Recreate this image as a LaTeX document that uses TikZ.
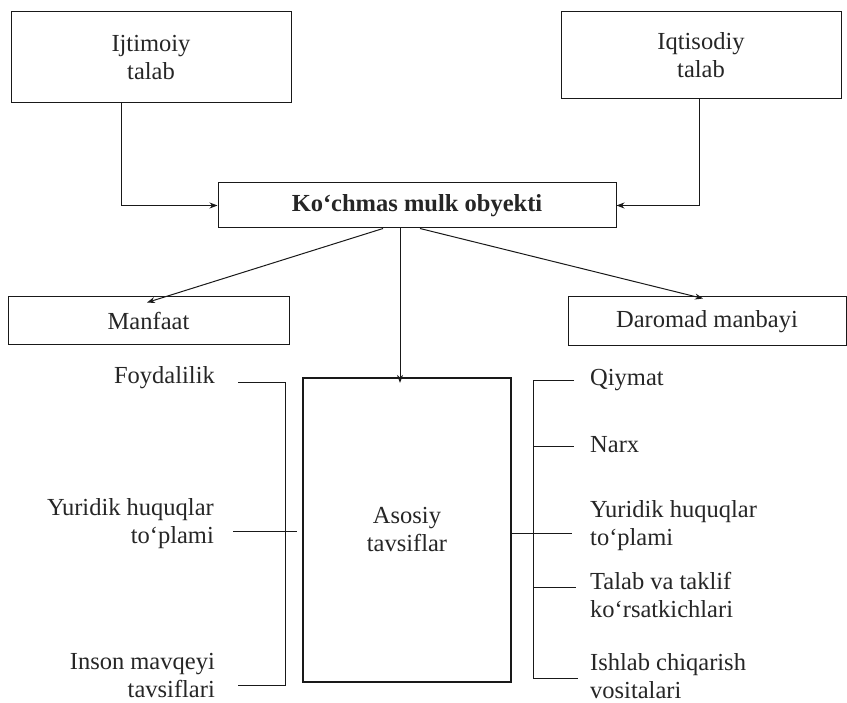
\documentclass[tikz,border=0pt]{standalone}
\usepackage{fontspec}
\setmainfont{Liberation Serif}
\usetikzlibrary{arrows.meta}
\begin{document}
\begin{tikzpicture}[x=1pt,y=-1pt,
  every node/.style={font=\fontsize{24.5}{28}\selectfont, text=black!85, inner sep=0pt},
  box/.style={draw=black!90, line width=1pt, align=center},
  arr/.style={draw=black!90, line width=1pt, -{Stealth[length=8pt,width=6pt]}},
  ln/.style={draw=black!90, line width=0.9pt},
  lt/.style={anchor=east, align=right},
  rt/.style={anchor=west, align=left}]
\useasboundingbox (0,0) rectangle (847,703);
\fill[white] (0,0) rectangle (847,703);
% top boxes
\node[box, minimum width=280pt, minimum height=91pt] (ij) at (151,57.5) {Ijtimoiy\\talab};
\node[box, minimum width=280pt, minimum height=87pt] (iq) at (701,55.5) {Iqtisodiy\\talab};
\node[box, minimum width=398pt, minimum height=45pt, font=\fontsize{24.5}{29}\selectfont\bfseries] (ko) at (417,205.5) {Ko‘chmas mulk obyekti};
\node[box, minimum width=281pt, minimum height=48pt] (ma) at (148.5,321) {Manfaat};
\node[box, minimum width=278pt, minimum height=49pt] (dr) at (707,321.5) {Daromad manbayi};
\node[box, line width=2.2pt, minimum width=208pt, minimum height=304pt] (as) at (407,530) {Asosiy\\tavsiflar};
% connectors
\draw[arr] ([xshift=-30pt]ij.south) |- (ko.west);
\draw[arr] ([xshift=-2pt]iq.south) |- (ko.east);
\draw[arr] ([xshift=-34pt]ko.south) -- ([xshift=-1.5pt,yshift=-6pt]ma.north);
\draw[arr] ([xshift=3pt]ko.south) -- ([xshift=-4pt,yshift=-2pt]dr.north);
\draw[arr] ([xshift=-17pt]ko.south) -- ([xshift=-7pt,yshift=-6pt]as.north);
% left texts
\node[lt] (fo) at (215,378) {Foydalilik};
\node[lt] (yl) at (214,524) {Yuridik huquqlar\\to‘plami};
\node[lt] (in) at (215,676) {Inson mavqeyi\\tavsiflari};
% right texts
\node[rt] (qi) at (590,380) {Qiymat};
\node[rt] (na) at (590,445) {Narx};
\node[rt] (yr) at (590,526) {Yuridik huquqlar\\to‘plami};
\node[rt] (ta) at (590,595) {Talab va taklif\\ko‘rsatkichlari};
\node[rt] (is) at (590,676) {Ishlab chiqarish\\vositalari};
% left bracket
\coordinate (lt1) at (285,382);
\coordinate (lt2) at (285,685);
\draw[ln] ([xshift=23pt]fo.east |- lt1) -- (lt1) -- (lt2) -- ([xshift=23pt]in.east |- lt2);
\draw[ln] (233,531) -- ([xshift=-5pt]as.west |- 0,531);
% right bracket
\coordinate (rt1) at (533,380);
\coordinate (rt2) at (533,678);
\draw[ln] ([xshift=-16pt]qi.west |- rt1) -- (rt1) -- (rt2) -- ([xshift=-12pt]is.west |- rt2);
\draw[ln] (rt1 |- 0,446) -- ([xshift=-16pt]na.west |- 0,446);
\draw[ln] (as.east |- 0,533) -- ([xshift=-18pt]yr.west |- 0,533);
\draw[ln] (rt1 |- 0,587) -- ([xshift=-14pt]ta.west |- 0,587);
\end{tikzpicture}
\end{document}
